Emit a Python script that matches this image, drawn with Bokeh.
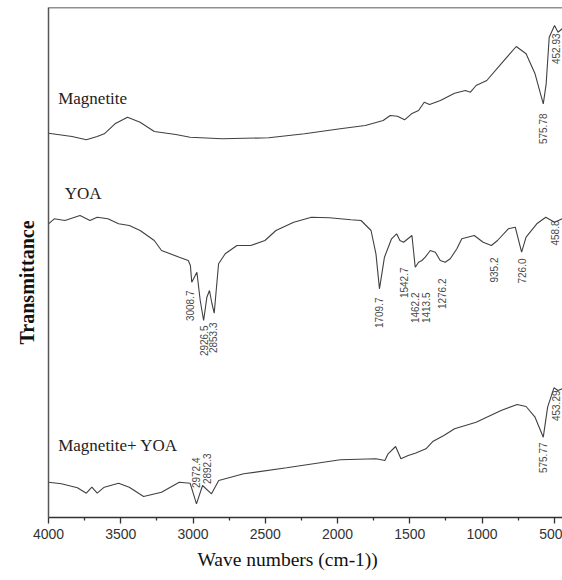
import math
from bokeh.plotting import figure
from bokeh.models import Range1d, FixedTicker, Title, ColumnDataSource, Span
from bokeh.core.properties import value
from bokeh.embed import file_html
from bokeh.resources import INLINE

# ---------------- data (wavenumber cm-1, transmittance in offset a.u.) ----------------
mag_wn = [4000, 3837, 3738, 3663, 3614, 3540, 3453, 3366, 3268, 3119,
          3020, 2798, 2476, 2228, 1981, 1808, 1684, 1635, 1585, 1536,
          1488, 1439, 1400, 1363, 1288, 1190, 1115, 1080, 1041, 967,
          868, 763, 695, 633, 576, 556, 535, 498, 474, 445]
mag_t = [384.3, 381, 377.7, 381, 383.7, 393.7, 400.3, 395.3, 386, 383,
         380.3, 378.7, 379.7, 383.7, 388.7, 392, 397, 402, 401.3, 397.7,
         403.7, 407, 415.3, 413, 417, 424.3, 427, 425.3, 432, 437,
         453.7, 471, 463.7, 443.7, 413.7, 433.7, 480.3, 492, 485.3, 488.7]

yoa_wn = [4000, 3960, 3886, 3782, 3713, 3663, 3589, 3515, 3441, 3366,
          3268, 3218, 3095, 3033, 3018, 3008.7, 2973, 2950, 2926.5, 2904,
          2886, 2869, 2853.3, 2823, 2777, 2696, 2600, 2502, 2426, 2303,
          2180, 2056, 1907, 1837, 1768, 1734, 1709.7, 1675, 1626, 1591,
          1568, 1542.7, 1485, 1462.2, 1439, 1416, 1393, 1358, 1323, 1289,
          1255, 1220, 1174, 1140, 1054, 992, 935, 893, 818, 770,
          726, 695, 621, 559, 498, 445]
yoa_t = [293.7, 298.7, 297, 302, 297, 300.3, 298.7, 293.7, 292, 287,
         277, 267, 260.3, 257, 252, 235.3, 245.3, 217, 197, 220.3,
         227, 214, 204.3, 253.7, 263.7, 272, 272, 277, 287, 295.3,
         300.3, 299.7, 297.7, 297, 287, 263.7, 228.7, 260.3, 278.7, 283.7,
         277, 275.3, 282, 250.3, 255.3, 257, 260.3, 267, 265.3, 257,
         255.3, 258.7, 268.7, 278.7, 282, 275.3, 272, 277, 288.7, 290.3,
         265.3, 280.3, 293.7, 300.3, 295.3, 298.7]

mix_wn = [4000, 3911, 3800, 3738, 3700, 3663, 3614, 3515, 3441, 3342,
          3218, 3095, 3020, 2976, 2934, 2872, 2822, 2649, 2352, 1981,
          1734, 1672, 1650, 1598, 1561, 1511, 1462, 1388, 1338, 1264,
          1190, 1041, 868, 757, 695, 633, 576, 546, 502, 474, 445]
mix_t = [35.3, 33.7, 29.7, 24.3, 30.3, 24.3, 30.3, 34.3, 30.3, 21,
         25.3, 35.3, 34.3, 13.7, 32, 23.7, 37, 43.7, 49.7, 57.7,
         58.7, 57, 63.7, 71, 58.7, 62, 64.3, 68.7, 76.3, 82,
         88.7, 95.3, 107, 113, 111, 100.3, 80.3, 110.3, 129.7, 127, 128.7]

series_names = ["Magnetite", "YOA", "Magnetite+ YOA"]

# peak annotations (text = wavenumber)
peak_labels = ["575.78", "452.93",
               "3008.7", "2926.5", "2853.3", "1709.7", "1542.7", "1462.2",
               "1413.5", "1276.2", "935.2", "726.0", "458.8",
               "2972.4", "2892.3", "575.77", "453.29"]
peak_label_top = [404, 484,
                  227, 192, 195, 220, 250, 225,
                  225, 239, 260, 259, 297,
                  60, 64, 75, 127]
peak_label_dx = [0, -5,
                 -2, 0, -1, 0, 0, 0,
                 4, 0, 3, 0, -5,
                 -1, -2, 0, -5]

xticks = [4000, 3500, 3000, 2500, 2000, 1500, 1000, 500]
xminor = [3750, 3250, 2750, 2250, 1750, 1250, 750]

# ---------------- figure ----------------
p = figure(width=562, height=580, output_backend="svg", toolbar_location=None,
           x_range=Range1d(4000, 443), y_range=Range1d(0, 510),
           min_border_left=48, min_border_right=0, min_border_top=7, min_border_bottom=63)
p.outline_line_color = None
p.grid.visible = False
p.background_fill_color = "white"
p.border_fill_color = "white"

line_color = "#404040"
for wn, t in [(mag_wn, mag_t), (yoa_wn, yoa_t), (mix_wn, mix_t)]:
    p.line(wn, t, line_color=line_color, line_width=1.1)

# series names
name_src = ColumnDataSource(dict(x=[3933, 3888, 3933], y=[418.7, 324.3, 72], text=series_names))
p.text(x="x", y="y", text="text", source=name_src, text_font=value("Liberation Serif"),
       text_font_size="17px", text_color="#222222", text_align="left", text_baseline="alphabetic")

# peak labels
pk_src = ColumnDataSource(dict(x=[float(s) for s in peak_labels], y=peak_label_top,
                               text=peak_labels, dx=peak_label_dx))
p.text(x="x", y="y", text="text", x_offset="dx", source=pk_src, angle=math.pi / 2,
       text_font=value("Liberation Sans"), text_font_size="10px", text_color="#4a4a4a",
       text_align="right", text_baseline="middle")

# top border line
p.add_layout(Span(location=510, dimension="width", line_color="#222222", line_width=1.5))

# x axis
xa = p.xaxis[0]
xa.ticker = FixedTicker(ticks=xticks, minor_ticks=xminor)
xa.axis_line_color = "#333333"
xa.axis_line_width = 1.5
xa.major_tick_in = 0
xa.major_tick_out = 6
xa.minor_tick_in = 0
xa.minor_tick_out = 3
xa.major_tick_line_color = "#333333"
xa.minor_tick_line_color = "#333333"
xa.major_tick_line_width = 1.3
xa.minor_tick_line_width = 1.3
xa.major_label_standoff = 5
xa.major_label_text_font = "Liberation Sans"
xa.major_label_text_font_size = "14px"
xa.major_label_text_color = "#333333"

# y axis: line only
ya = p.yaxis[0]
ya.ticker = FixedTicker(ticks=[])
ya.axis_line_color = "#555555"
ya.axis_line_width = 1.5
ya.major_tick_in = 0
ya.major_tick_out = 0
ya.minor_tick_in = 0
ya.minor_tick_out = 0
ya.major_label_text_font_size = "0px"
ya.major_label_standoff = 0

# axis titles
yt = Title(text="Transmittance", align="left", offset=173, standoff=18, vertical_align="top",
           text_font="Liberation Serif", text_font_style="bold", text_font_size="20px",
           text_color="#111111")
p.add_layout(yt, "left")
xt = Title(text="Wave numbers (cm-1))", align="left", offset=149, standoff=10,
           vertical_align="bottom",
           text_font="Liberation Serif", text_font_style="normal", text_font_size="19.5px",
           text_color="#111111")
p.add_layout(xt, "below")

open("out.html", "w").write(file_html(p, INLINE))
